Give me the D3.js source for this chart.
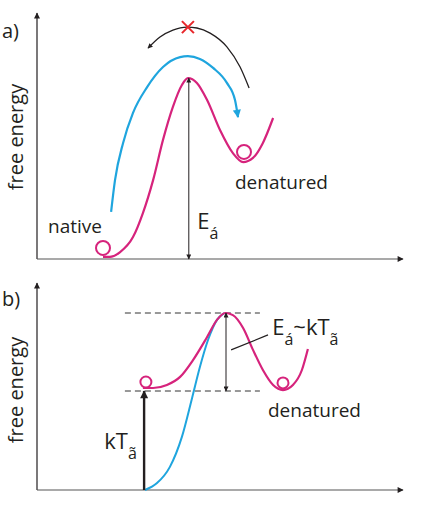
<!DOCTYPE html>
<html>
<head>
<meta charset="utf-8">
<script src="https://cdn.jsdelivr.net/npm/d3@7"></script>
<style>
  body { margin: 0; background: #fff; }
  text { font-family: 'Open Sans', sans-serif; fill: #231f20; }
</style>
</head>
<body>
<script>
var width = 431
var height = 516

// reaction coordinate / free energy, arbitrary units
var nativeCurveA = [[22, 0.7], [24.3, 0.7], [27.7, 2.3], [32, 7.3], [35.3, 15.3], [38.7, 26.3], [42, 39.7],
  [45.3, 50.7], [48.3, 58], [50.3, 60.3], [53.3, 58.7], [56.7, 53], [61, 43], [65.3, 35.3],
  [68.7, 32.3], [72, 33.7], [75.3, 38.7], [78.7, 47]]
var unfoldPathA = [[24.7, 15.7], [26, 26.3], [28.7, 38.7], [32, 48.7], [36.7, 57.3], [42, 64], [47.7, 67.3],
  [50.3, 67.6], [54.3, 66.7], [58.7, 63.7], [63.3, 58.7], [66, 53], [67, 47.3]]
var refoldPathA = [[37, 70.3], [41, 74], [45.3, 76.3], [50, 77.3], [53.3, 77], [57.7, 75.3], [63.3, 70.7],
  [67.7, 64], [70.7, 57]]
var blockedA = [50.3, 77.3]
var statesA = [[22, 3.7], [69, 35.7]]
var barrierA = [50.6, 0, 60.3]

var curveB = [[35.3, 34], [38.7, 34], [43.3, 35], [47.7, 37.7], [52, 43.3], [56.7, 51], [60, 56.7],
  [62.7, 59], [65.3, 58.3], [68.7, 54], [72, 46.7], [75.3, 40], [78.7, 35], [82, 33.3],
  [85.3, 35], [88.3, 40], [90.3, 47]]
var unfoldPathB = [[36, 0], [40, 2.3], [44.3, 7.7], [48.3, 17.7], [51.7, 30.7], [54.3, 41], [57, 50],
  [60, 56.7], [62.5, 59]]
var statesB = [[36.3, 36], [82, 35.7]]
var levelsB = [59, 33]
var levelSpanB = [29.3, 74.3]
var thermalB = [35.7, 0, 33]
var barrierB = [63, 33, 59]
var leaderB = [[64.7, 46.7], [77, 51.7]]

// each label: pieces of [text, subscript?]
var labelsA = [
  { parts: [['native', false]], x: 3.7, y: 8.7 },
  { parts: [['denatured', false]], x: 66, y: 23.3 },
  { parts: [['E', false], ['á', true]], x: 53.4, y: 10 }
]
var labelsB = [
  { parts: [['denatured', false]], x: 77, y: 24.4 },
  { parts: [['E', false], ['á', true], ['~kT', false], ['ã', true]], x: 78.4, y: 51.7 },
  { parts: [['kT', false], ['ã', true]], x: 22.4, y: 13.7 }
]

var magenta = '#d6237c'
var blue = '#1fa5de'
var ink = '#231f20'

var svg = d3.select('body').append('svg')
  .attr('width', width)
  .attr('height', height)

var defs = svg.append('defs')
function marker (id, colour, w, h) {
  defs.append('marker')
    .attr('id', id)
    .attr('viewBox', '0 0 10 10')
    .attr('refX', 9).attr('refY', 5)
    .attr('markerUnits', 'userSpaceOnUse')
    .attr('markerWidth', w).attr('markerHeight', h)
    .attr('orient', 'auto-start-reverse')
    .append('path')
    .attr('d', 'M0,0L10,5L0,10Z')
    .attr('fill', colour)
}
marker('axis', ink, 8, 6)
marker('small', ink, 6, 5)
marker('thick', ink, 9, 8)
marker('blue', blue, 10, 8)

var x = d3.scaleLinear().domain([0, 122]).range([37, 403])

function panel (yRange, yMax, tag, labelY, tagY) {
  var y = d3.scaleLinear().domain([0, yMax]).range(yRange)
  var g = svg.append('g')
  var line = d3.line()
    .x(function (d) { return x(d[0]) })
    .y(function (d) { return y(d[1]) })
    .curve(d3.curveMonotoneX)

  g.append('line')
    .attr('x1', x(0)).attr('y1', y(0))
    .attr('x2', x(0)).attr('y2', y(yMax))
    .attr('stroke', ink).attr('stroke-width', 1.2)
    .attr('marker-end', 'url(#axis)')
  g.append('line')
    .attr('x1', x(0)).attr('y1', y(0))
    .attr('x2', x(122)).attr('y2', y(0))
    .attr('stroke', '#555').attr('stroke-width', 1.2)
    .attr('marker-end', 'url(#axis)')

  g.append('text')
    .attr('transform', 'translate(23,' + labelY + ') rotate(-90)')
    .attr('text-anchor', 'middle')
    .style('font-size', '20px')
    .text('free energy')
  g.append('text')
    .attr('x', 2).attr('y', tagY)
    .style('font-size', '20px')
    .text(tag)

  return { g: g, y: y, line: line }
}

function addLabels (p, labels) {
  var t = p.g.selectAll('.label').data(labels).enter().append('text')
    .attr('class', 'label')
    .attr('x', function (d) { return x(d.x) })
    .attr('y', function (d) { return p.y(d.y) })
    .style('font-size', function (d) { return d.parts.length > 1 ? '22px' : '19px' })
  t.selectAll('tspan').data(function (d) { return d.parts }).enter().append('tspan')
    .attr('dy', function (d, i, nodes) {
      var prev = i > 0 ? d3.select(nodes[i - 1]).datum()[1] : false
      if (d[1] && !prev) return 10
      if (!d[1] && prev) return -10
      return 0
    })
    .attr('dx', function (d) { return d[1] ? 0 : 0 })
    .style('font-size', function (d) { return d[1] ? '16px' : null })
    .text(function (d) { return d[0] })
}

// a)
var a = panel([259, 13], 82, 'a)', 137, 38)

a.g.append('path')
  .attr('d', a.line(refoldPathA))
  .attr('fill', 'none').attr('stroke', ink).attr('stroke-width', 1.3)
  .attr('marker-start', 'url(#small)')

a.g.append('path')
  .attr('d', a.line(unfoldPathA))
  .attr('fill', 'none').attr('stroke', blue).attr('stroke-width', 2.2)
  .attr('marker-end', 'url(#blue)')

a.g.append('path')
  .attr('d', a.line(nativeCurveA))
  .attr('fill', 'none').attr('stroke', magenta).attr('stroke-width', 2.2)

a.g.selectAll('.state').data(statesA).enter().append('circle')
  .attr('cx', function (d) { return x(d[0]) })
  .attr('cy', function (d) { return a.y(d[1]) })
  .attr('r', 7)
  .attr('fill', 'none').attr('stroke', magenta).attr('stroke-width', 2)

a.g.append('line')
  .attr('x1', x(barrierA[0])).attr('y1', a.y(barrierA[1]))
  .attr('x2', x(barrierA[0])).attr('y2', a.y(barrierA[2]))
  .attr('stroke', ink).attr('stroke-width', 1)
  .attr('marker-start', 'url(#small)')
  .attr('marker-end', 'url(#small)')

var cx = x(blockedA[0])
var cy = a.y(blockedA[1])
a.g.selectAll('.cross').data([[-1, -1, 1, 1], [-1, 1, 1, -1]]).enter().append('line')
  .attr('x1', function (d) { return cx + d[0] * 6 })
  .attr('y1', function (d) { return cy + d[1] * 6 })
  .attr('x2', function (d) { return cx + d[2] * 6 })
  .attr('y2', function (d) { return cy + d[3] * 6 })
  .attr('stroke', '#e8262a').attr('stroke-width', 2)

addLabels(a, labelsA)

// b)
var b = panel([490, 283], 69, 'b)', 390, 306)

b.g.selectAll('.level').data(levelsB).enter().append('line')
  .attr('x1', x(levelSpanB[0])).attr('x2', x(levelSpanB[1]))
  .attr('y1', function (d) { return b.y(d) })
  .attr('y2', function (d) { return b.y(d) })
  .attr('stroke', '#333').attr('stroke-width', 1)
  .attr('stroke-dasharray', '6,4')

b.g.append('path')
  .attr('d', b.line(unfoldPathB))
  .attr('fill', 'none').attr('stroke', blue).attr('stroke-width', 2)

b.g.append('path')
  .attr('d', b.line(curveB))
  .attr('fill', 'none').attr('stroke', magenta).attr('stroke-width', 2.2)

b.g.selectAll('.state').data(statesB).enter().append('circle')
  .attr('cx', function (d) { return x(d[0]) })
  .attr('cy', function (d) { return b.y(d[1]) })
  .attr('r', 5.5)
  .attr('fill', 'none').attr('stroke', magenta).attr('stroke-width', 2)

b.g.append('line')
  .attr('x1', x(thermalB[0])).attr('y1', b.y(thermalB[1]))
  .attr('x2', x(thermalB[0])).attr('y2', b.y(thermalB[2]))
  .attr('stroke', ink).attr('stroke-width', 2.4)
  .attr('marker-end', 'url(#thick)')

b.g.append('line')
  .attr('x1', x(barrierB[0])).attr('y1', b.y(barrierB[1]))
  .attr('x2', x(barrierB[0])).attr('y2', b.y(barrierB[2]))
  .attr('stroke', ink).attr('stroke-width', 1)
  .attr('marker-start', 'url(#small)')
  .attr('marker-end', 'url(#small)')

b.g.append('line')
  .attr('x1', x(leaderB[0][0])).attr('y1', b.y(leaderB[0][1]))
  .attr('x2', x(leaderB[1][0])).attr('y2', b.y(leaderB[1][1]))
  .attr('stroke', ink).attr('stroke-width', 1.2)

addLabels(b, labelsB)
</script>
</body>
</html>
